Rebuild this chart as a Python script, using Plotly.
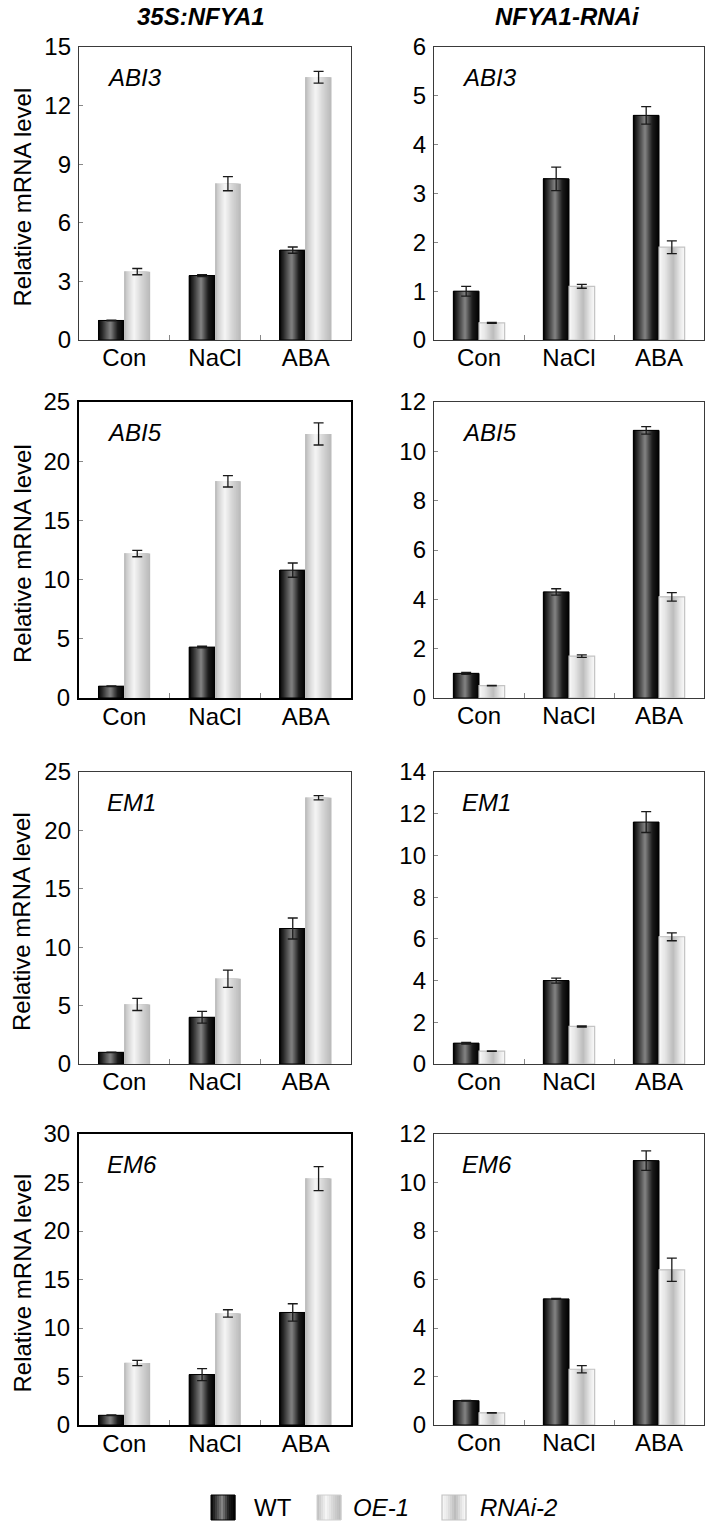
import plotly.graph_objects as go

# ---------------- data ----------------
categories = ["Con", "NaCl", "ABA"]
genes = ["ABI3", "ABI5", "EM1", "EM6"]
col_titles = ["35S:NFYA1", "NFYA1-RNAi"]
legend_names = ["WT", "OE-1", "RNAi-2"]

# left column: WT vs OE-1 (35S:NFYA1)
oe_wt = {
    "ABI3": [1.0, 3.3, 4.6],
    "ABI5": [1.0, 4.3, 10.8],
    "EM1": [1.0, 4.0, 11.6],
    "EM6": [1.0, 5.2, 11.6],
}
oe_wt_err = {
    "ABI3": [0.02, 0.05, 0.16],
    "ABI5": [0.03, 0.07, 0.6],
    "EM1": [0.02, 0.5, 0.9],
    "EM6": [0.03, 0.62, 0.9],
}
oe_val = {
    "ABI3": [3.5, 8.0, 13.45],
    "ABI5": [12.2, 18.3, 22.3],
    "EM1": [5.1, 7.3, 22.8],
    "EM6": [6.4, 11.5, 25.4],
}
oe_err = {
    "ABI3": [0.16, 0.36, 0.3],
    "ABI5": [0.27, 0.48, 0.93],
    "EM1": [0.52, 0.74, 0.18],
    "EM6": [0.27, 0.38, 1.24],
}
# right column: WT vs RNAi-2 (NFYA1-RNAi)
ri_wt = {
    "ABI3": [1.0, 3.3, 4.6],
    "ABI5": [1.0, 4.3, 10.85],
    "EM1": [1.0, 4.0, 11.6],
    "EM6": [1.0, 5.2, 10.9],
}
ri_wt_err = {
    "ABI3": [0.1, 0.24, 0.18],
    "ABI5": [0.04, 0.13, 0.15],
    "EM1": [0.04, 0.12, 0.5],
    "EM6": [0.01, 0.02, 0.4],
}
ri_val = {
    "ABI3": [0.35, 1.1, 1.9],
    "ABI5": [0.5, 1.7, 4.1],
    "EM1": [0.62, 1.8, 6.1],
    "EM6": [0.5, 2.3, 6.4],
}
ri_err = {
    "ABI3": [0.01, 0.04, 0.13],
    "ABI5": [0.01, 0.05, 0.17],
    "EM1": [0.01, 0.03, 0.19],
    "EM6": [0.01, 0.15, 0.48],
}
y_max = {"left": [15, 25, 25, 30], "right": [6, 12, 14, 12]}
y_dtick = {"left": [3, 5, 5, 5], "right": [1, 2, 2, 2]}

# ---------------- style ----------------
W, H = 711, 1527
FONT = "Liberation Sans, Arial, sans-serif"
FS = 24
col_x = [(79, 351), (434, 704)]
row_y = [(47, 340), (402, 698), (772, 1064), (1134, 1425)]
thick_frame = {(1, 0), (3, 0)}

GRAD = {
    "WT": [(0, (5, 5, 5)), (0.14, (40, 40, 40)), (0.46, (132, 132, 132)),
           (0.74, (28, 28, 28)), (1, (0, 0, 0))],
    "OE-1": [(0, (188, 188, 188)), (0.14, (212, 212, 212)), (0.38, (246, 246, 246)),
             (0.66, (214, 214, 214)), (1, (184, 184, 184))],
    "RNAi-2": [(0, (248, 248, 248)), (0.22, (232, 232, 232)), (0.55, (188, 188, 188)),
               (0.82, (232, 232, 232)), (1, (250, 250, 250))],
}
OUTLINE = {"WT": ("#000000", 1), "OE-1": ("rgba(0,0,0,0)", 0), "RNAi-2": ("#c4c4c4", 1.2)}


def grad_color(name, t):
    stops = GRAD[name]
    for (t0, c0), (t1, c1) in zip(stops[:-1], stops[1:]):
        if t0 <= t <= t1:
            f = (t - t0) / (t1 - t0) if t1 > t0 else 0
            c = [round(a + (b - a) * f) for a, b in zip(c0, c1)]
            return "rgb(%d,%d,%d)" % tuple(c)
    return "rgb(%d,%d,%d)" % stops[-1][1]


def px_x(x):
    return x / W


def px_y(y):
    return 1 - y / H


NSTRIPE = 24
BW = 0.285
OFFS = [-0.1425, 0.1425]

fig = go.Figure()
annotations = []
shapes = []

for r, gene in enumerate(genes):
    for c in range(2):
        idx = r * 2 + c + 1
        sfx = "" if idx == 1 else str(idx)
        xa, ya = "x" + sfx, "y" + sfx
        if c == 0:
            series = [("WT", oe_wt[gene], oe_wt_err[gene]), ("OE-1", oe_val[gene], oe_err[gene])]
            ymax, dt = y_max["left"][r], y_dtick["left"][r]
        else:
            series = [("WT", ri_wt[gene], ri_wt_err[gene]), ("RNAi-2", ri_val[gene], ri_err[gene])]
            ymax, dt = y_max["right"][r], y_dtick["right"][r]
        for s, (name, vals, errs) in enumerate(series):
            off = OFFS[s]
            left = off - BW / 2
            # nested stripes: widest first, each narrower one covers the left part
            for k in reversed(range(NSTRIPE)):
                t = (k + 0.5) / NSTRIPE
                wk = (k + 1) * BW / NSTRIPE
                fig.add_trace(go.Bar(
                    x=[i + left + wk / 2 for i in range(len(categories))], y=vals,
                    width=wk,
                    marker=dict(color=grad_color(name, t), line=dict(width=0)),
                    xaxis=xa, yaxis=ya, showlegend=False, hoverinfo="skip"))
            lc, lw = OUTLINE[name]
            fig.add_trace(go.Bar(
                x=[i + off for i in range(len(categories))], y=vals, width=BW,
                marker=dict(color="rgba(0,0,0,0)", line=dict(color=lc, width=lw)),
                error_y=dict(type="data", array=errs, visible=True, color="#1a1a1a",
                             thickness=1.3, width=5),
                xaxis=xa, yaxis=ya, showlegend=False, name=name))
        x0, x1 = col_x[c]
        y0, y1 = row_y[r]
        thick = (r, c) in thick_frame
        fcol = "#000000" if thick else "#3a3a3a"
        fw = 2 if thick else 1.3
        fig.layout["xaxis" + sfx] = dict(
            domain=[px_x(x0), px_x(x1)], anchor=ya, range=[-0.5, 2.5],
            tickmode="array", tickvals=list(range(len(categories))), ticktext=categories,
            ticks="", showgrid=False, zeroline=False, showline=True, linecolor=fcol,
            linewidth=fw, mirror=True, tickfont=dict(size=FS, color="black", family=FONT),
            minor=dict(tickmode="array", tickvals=[0.5, 1.5], ticks="inside", ticklen=5,
                       tickcolor="#888", tickwidth=1, showgrid=False),
            ticklabelstandoff=-4, automargin=False, fixedrange=True)
        fig.layout["yaxis" + sfx] = dict(
            domain=[px_y(y1), px_y(y0)], anchor=xa, range=[0, ymax], dtick=dt, tick0=0,
            ticks="inside", ticklen=4, tickcolor="#888", tickwidth=1,
            showgrid=False, zeroline=False, showline=True, linecolor=fcol,
            linewidth=fw, mirror=True, tickfont=dict(size=FS, color="black", family=FONT),
            ticklabelstandoff=2, automargin=False, fixedrange=True)
        annotations.append(dict(
            text="<i>%s</i>" % gene, xref="paper", yref="paper",
            x=px_x(x0 + 26), y=px_y(y0 + 30), xanchor="left", yanchor="middle",
            showarrow=False, font=dict(size=FS, color="black", family=FONT)))
        if c == 0:
            annotations.append(dict(
                text="Relative mRNA level", xref="paper", yref="paper",
                x=px_x(22), y=px_y((y0 + y1) / 2 + 4), textangle=-90,
                xanchor="center", yanchor="middle", showarrow=False,
                font=dict(size=FS, color="black", family=FONT)))

# column titles
for c, (title, cx) in enumerate(zip(col_titles, [201, 567])):
    annotations.append(dict(
        text="<b><i>%s</i></b>" % title, xref="paper", yref="paper",
        x=px_x(cx), y=px_y(17), xanchor="center", yanchor="middle", showarrow=False,
        font=dict(size=FS, color="black", family=FONT)))

# legend (gradient swatches)
leg_x = [211, 317, 442]
leg_tx = [252, 351, 478]
sw_w = 24
sy0, sy1 = 1495, 1520
for name, lx, tx in zip(legend_names, leg_x, leg_tx):
    n = 12
    for k in range(n):
        t = (k + 0.5) / n
        shapes.append(dict(type="rect", xref="paper", yref="paper",
                           x0=px_x(lx + k * sw_w / n), x1=px_x(lx + (k + 1) * sw_w / n + 0.4),
                           y0=px_y(sy1), y1=px_y(sy0), line=dict(width=0),
                           fillcolor=grad_color(name, t)))
    lc, lw = OUTLINE[name]
    if name == "OE-1":
        lc, lw = "#d0d0d0", 1
    shapes.append(dict(type="rect", xref="paper", yref="paper",
                       x0=px_x(lx), x1=px_x(lx + sw_w), y0=px_y(sy1), y1=px_y(sy0),
                       line=dict(color=lc, width=lw), fillcolor="rgba(0,0,0,0)"))
    label = name if name == "WT" else "<i>%s</i>" % name
    annotations.append(dict(
        text=label, xref="paper", yref="paper", x=px_x(tx), y=px_y((sy0 + sy1) / 2),
        xanchor="left", yanchor="middle", showarrow=False,
        font=dict(size=FS, color="black", family=FONT)))

fig.update_layout(
    width=W, height=H, margin=dict(l=0, r=0, t=0, b=0, pad=0, autoexpand=False),
    paper_bgcolor="white", plot_bgcolor="white", barmode="overlay",
    showlegend=False, annotations=annotations, shapes=shapes,
    font=dict(family=FONT, size=FS, color="black"))

fig.write_html(
    "out.html",
    config={"displayModeBar": False},
    post_script="document.body.style.margin='0';document.body.style.overflow='hidden';")
